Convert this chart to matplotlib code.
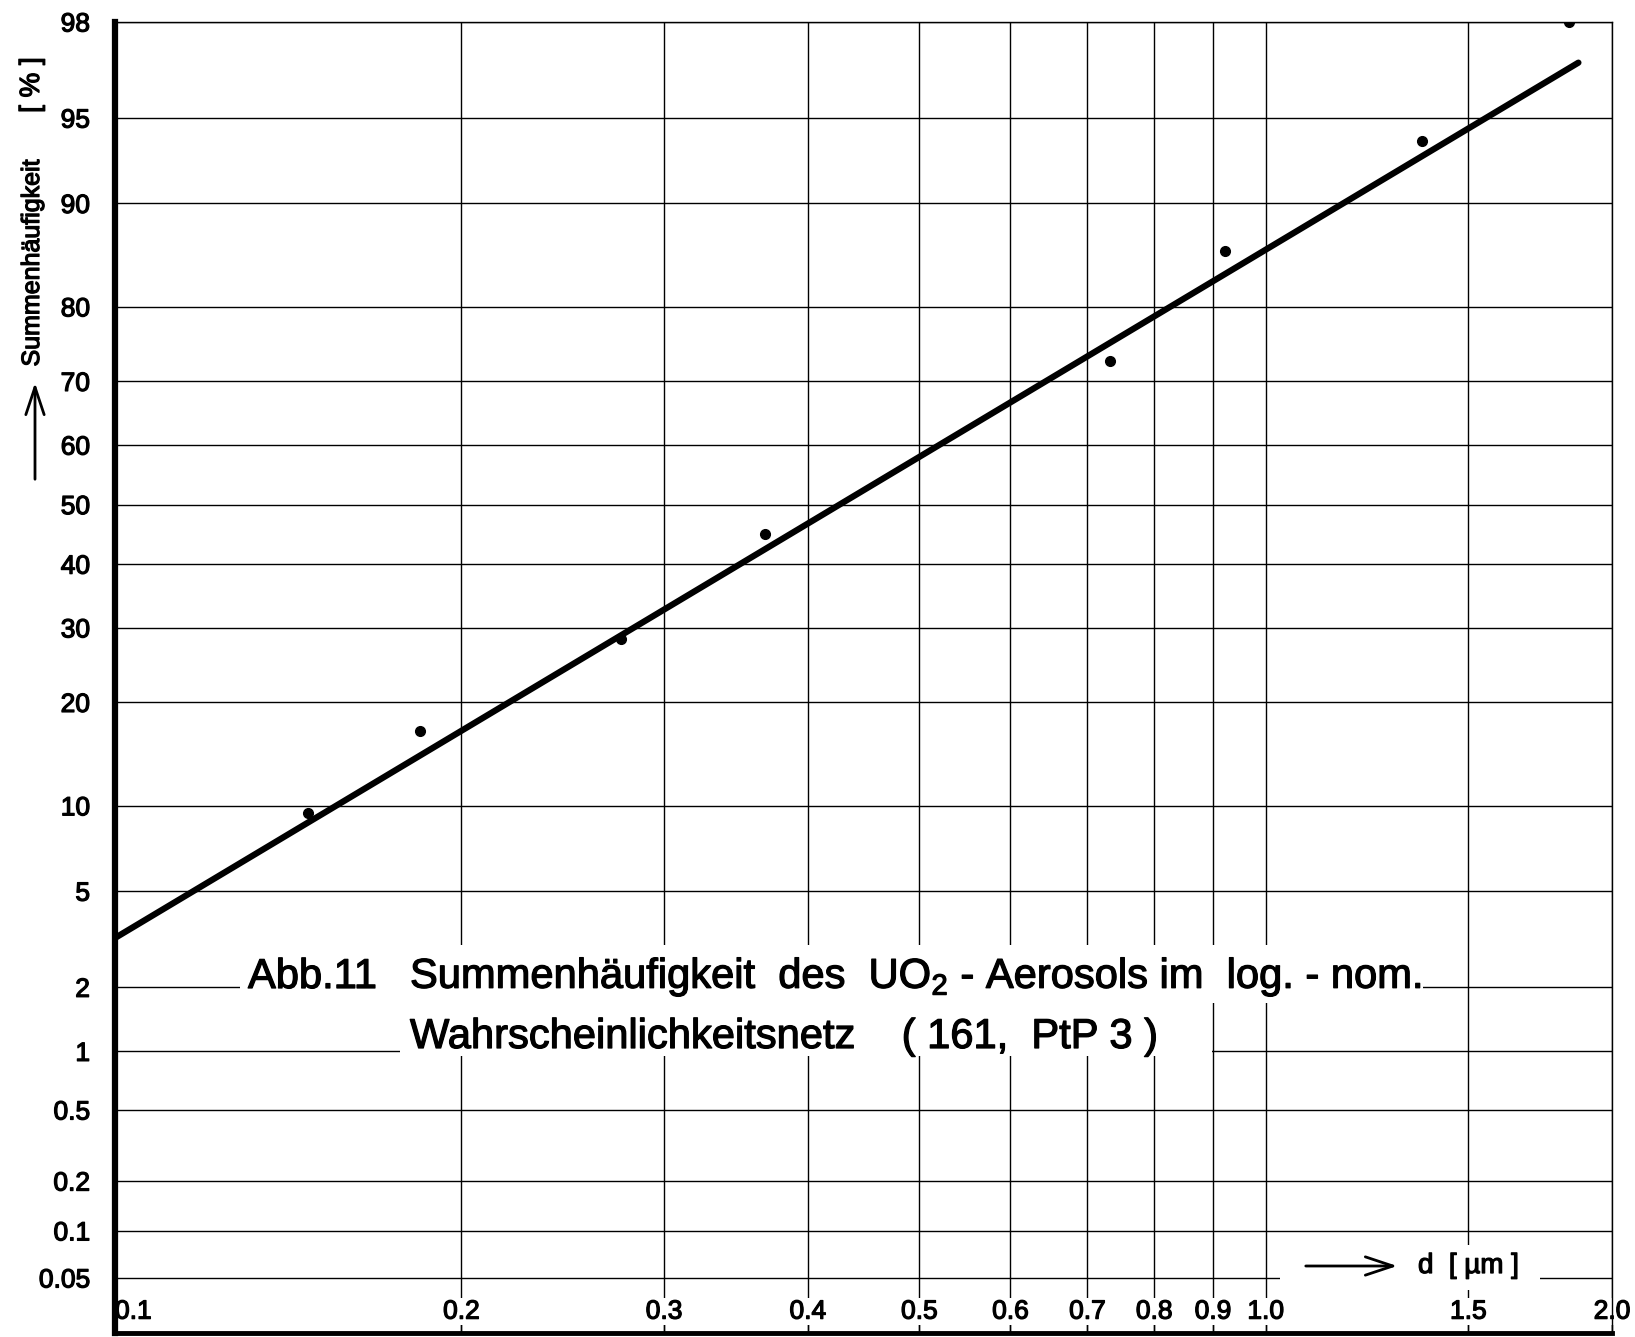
import numpy as np
import matplotlib
matplotlib.use("Agg")
import matplotlib.pyplot as plt
import matplotlib.patheffects as pe
from matplotlib.patches import Rectangle, FancyArrowPatch
from matplotlib.ticker import NullLocator
from statistics import NormalDist

# measured data (particle size d in um, cumulative frequency in %)
d_points = [0.147, 0.184, 0.275, 0.367, 0.733, 0.922, 1.368, 1.836]
p_points = [9.5, 16.8, 28.4, 45.1, 73.0, 86.0, 93.9, 98.0]

# fitted straight line on the log-normal paper
fit_d = [0.1, 1.87]
fit_p = [3.26, 97.0]

x_ticks = [0.1, 0.2, 0.3, 0.4, 0.5, 0.6, 0.7, 0.8, 0.9, 1.0, 1.5, 2.0]
x_labels = ["0.1", "0.2", "0.3", "0.4", "0.5", "0.6", "0.7", "0.8", "0.9", "1.0", "1.5", "2.0"]
y_ticks = [0.05, 0.1, 0.2, 0.5, 1, 2, 5, 10, 20, 30, 40, 50, 60, 70, 80, 90, 95, 98]
y_labels = ["0.05", "0.1", "0.2", "0.5", "1", "2", "5", "10", "20", "30", "40", "50",
            "60", "70", "80", "90", "95", "98"]

nd = NormalDist()
_ppf = np.vectorize(lambda v: nd.inv_cdf(v / 100.0), otypes=[float])
_cdf = np.vectorize(lambda v: nd.cdf(v) * 100.0, otypes=[float])


def forward(p):
    p = np.clip(np.asarray(p, dtype=float), 1e-9, 100 - 1e-9)
    return _ppf(p)


def inverse(z):
    return _cdf(np.asarray(z, dtype=float))


plt.rcParams['font.family'] = ['Liberation Sans', 'DejaVu Sans']
plt.rcParams['mathtext.fontset'] = 'custom'
plt.rcParams['mathtext.rm'] = 'Liberation Sans'

# slightly heavier strokes, like the printed lettering
heavy = [pe.withStroke(linewidth=0.9, foreground='black')]

W, H = 1635, 1337
fig = plt.figure(figsize=(W / 100, H / 100), dpi=100)
ax = fig.add_axes([115 / W, 4 / H, (1612 - 115) / W, (1333 - 22) / H])

ax.set_xscale('log')
ax.set_xlim(0.1, 2.0)
ax.set_yscale('function', functions=(forward, inverse))
ax.set_ylim(0.0212, 98)

ax.set_xticks(x_ticks, x_labels)
ax.set_yticks(y_ticks, y_labels)
ax.xaxis.set_minor_locator(NullLocator())
ax.yaxis.set_minor_locator(NullLocator())

ax.set_axisbelow(True)
ax.grid(True, color='black', lw=1.0)

ax.tick_params(axis='y', length=0, pad=18, labelsize=19)
ax.tick_params(axis='x', direction='in', length=8, width=1, pad=-24, labelsize=19)
for lbl in ax.get_xticklabels():
    lbl.set_bbox(dict(facecolor='white', edgecolor='none', pad=1))
    lbl.set_path_effects(heavy)
for lbl in ax.get_yticklabels():
    lbl.set_path_effects(heavy)
ax.get_xticklabels()[0].set_horizontalalignment('left')

ax.spines['left'].set_linewidth(4.5)
ax.spines['bottom'].set_linewidth(3.5)
ax.spines['top'].set_linewidth(1.0)
ax.spines['right'].set_linewidth(1.0)

ax.plot(fit_d, fit_p, color='black', lw=4.5, solid_capstyle='round', zorder=4)
ax.plot(d_points, p_points, 'o', color='black', ms=7, zorder=5)


def px(x, y):
    return x / W, 1 - y / H


def white_box(x0, y0, x1, y1):
    r = Rectangle(px(x0, y1), (x1 - x0) / W, (y1 - y0) / H, transform=fig.transFigure,
                  facecolor='white', edgecolor='none', zorder=3, clip_on=False)
    ax.add_patch(r)


# caption inside the grid
white_box(240, 945, 1423, 1003)
white_box(400, 1000, 1212, 1056)
fig.text(*px(248, 988), "Abb.11", fontsize=30, va='baseline', ha='left', zorder=6,
         path_effects=heavy)
fig.text(*px(410, 988), "Summenhäufigkeit  des  UO$_2$ - Aerosols im  log. - nom.",
         fontsize=30, va='baseline', ha='left', zorder=6, path_effects=heavy)
fig.text(*px(410, 1048), "Wahrscheinlichkeitsnetz    ( 161,  PtP 3 )",
         fontsize=30, va='baseline', ha='left', zorder=6, path_effects=heavy)

arrow_style = '->,head_length=0.9,head_width=0.3'

# x axis label
white_box(1280, 1245, 1540, 1290)
fig.text(*px(1418, 1266), "d  [ µm ]", fontsize=20, va='center', ha='left', zorder=6,
         path_effects=heavy)
fig.add_artist(FancyArrowPatch(px(1303, 1266), px(1400, 1266), transform=fig.transFigure,
                               arrowstyle=arrow_style, mutation_scale=22, lw=2, color='black'))

# y axis label
fig.text(*px(32, 263), "Summenhäufigkeit", fontsize=18, rotation=90, va='center',
         ha='center', path_effects=heavy)
fig.text(*px(32, 85), "[ % ]", fontsize=20, rotation=90, va='center', ha='center',
         path_effects=heavy)
fig.add_artist(FancyArrowPatch(px(35, 482), px(35, 380), transform=fig.transFigure,
                               arrowstyle=arrow_style, mutation_scale=22, lw=2, color='black'))

fig.savefig("out.png", dpi=100)
